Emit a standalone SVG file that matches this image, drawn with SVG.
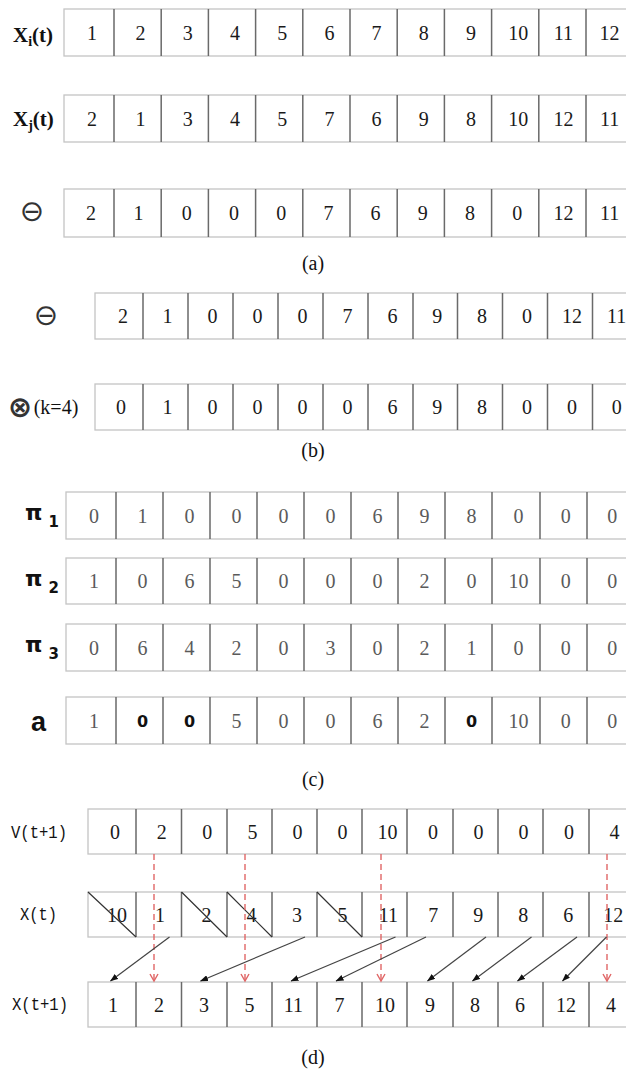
<svg xmlns="http://www.w3.org/2000/svg" width="626" height="1069" viewBox="0 0 626 1069">
<style>
.box{fill:#fff;stroke:#c4c4c4;stroke-width:1.3}
.dv{stroke:#6a6a6a;stroke-width:1.5;fill:none}
.n{font-family:"Liberation Serif",serif;font-size:20px;fill:#1a1a1a;text-anchor:middle}
.g{fill:#5a5a5a}
.b0{font-family:"DejaVu Sans",sans-serif;font-weight:bold;font-size:16px;fill:#111}
.lbl{font-family:"Liberation Serif",serif;font-weight:bold;font-size:21px;fill:#111}
.sym{font-family:"DejaVu Sans",sans-serif;font-size:29px;fill:#333;text-anchor:middle}
.pi{font-family:"DejaVu Sans",sans-serif;font-weight:bold;font-size:22px;fill:#111}
.mono{font-family:"Liberation Mono",monospace;font-size:18px;fill:#111}
.cap{font-family:"Liberation Serif",serif;font-size:20px;fill:#111;text-anchor:middle}
.strike{stroke:#333;stroke-width:1.2}
.red{stroke:#e06666;stroke-width:1.4;stroke-dasharray:6 4;fill:none}
.blk{stroke:#444;stroke-width:1.2;fill:none}
</style>
<defs>
<marker id="ah" markerWidth="8" markerHeight="6" refX="7.5" refY="3" orient="auto" markerUnits="userSpaceOnUse">
<path d="M0,0 L8,3 L0,6 z" fill="#111"/>
</marker>
<marker id="rh" markerWidth="10" markerHeight="10" refX="8" refY="5" orient="auto" markerUnits="userSpaceOnUse">
<path d="M1,1 L8,5 L1,9" fill="none" stroke="#e06666" stroke-width="1.4"/>
</marker>
</defs>

<!-- (a) -->
<g id="a-row1">
<text class="lbl" x="13" y="42">X<tspan font-size="14" dy="4">i</tspan><tspan dy="-4">(t)</tspan></text>
<rect class="box" x="64" y="9" width="572" height="47"/>
<path class="dv" d="M114 9V56M161.2 9V56M208.4 9V56M255.6 9V56M302.8 9V56M350 9V56M397.2 9V56M444.4 9V56M491.6 9V56M538.8 9V56M586 9V56"/>
<g class="n">
<text x="92" y="39.5">1</text><text x="140.6" y="39.5">2</text><text x="187.8" y="39.5">3</text><text x="235" y="39.5">4</text><text x="282.2" y="39.5">5</text><text x="329.4" y="39.5">6</text><text x="376.6" y="39.5">7</text><text x="423.8" y="39.5">8</text><text x="471" y="39.5">9</text><text x="518.2" y="39.5">10</text><text x="563.4" y="39.5">11</text><text x="609.6" y="39.5">12</text>
</g>
</g>
<g id="a-row2">
<text class="lbl" x="13" y="126">X<tspan font-size="14" dy="4">j</tspan><tspan dy="-4">(t)</tspan></text>
<rect class="box" x="64" y="95" width="572" height="47"/>
<path class="dv" d="M114 95V142M161.2 95V142M208.4 95V142M255.6 95V142M302.8 95V142M350 95V142M397.2 95V142M444.4 95V142M491.6 95V142M538.8 95V142M586 95V142"/>
<g class="n">
<text x="92" y="125.5">2</text><text x="140.6" y="125.5">1</text><text x="187.8" y="125.5">3</text><text x="235" y="125.5">4</text><text x="282.2" y="125.5">5</text><text x="329.4" y="125.5">7</text><text x="376.6" y="125.5">6</text><text x="423.8" y="125.5">9</text><text x="471" y="125.5">8</text><text x="518.2" y="125.5">10</text><text x="563.4" y="125.5">12</text><text x="609.6" y="125.5">11</text>
</g>
</g>
<g id="a-row3">
<text class="sym" x="32" y="221">⊖</text>
<rect class="box" x="64" y="189" width="572" height="48"/>
<path class="dv" d="M114 189V237M161.2 189V237M208.4 189V237M255.6 189V237M302.8 189V237M350 189V237M397.2 189V237M444.4 189V237M491.6 189V237M538.8 189V237M586 189V237"/>
<g class="n">
<text x="91" y="220">2</text><text x="138.6" y="220">1</text><text x="186.8" y="220">0</text><text x="234" y="220">0</text><text x="281.2" y="220">0</text><text x="328.4" y="220">7</text><text x="375.6" y="220">6</text><text x="422.8" y="220">9</text><text x="470" y="220">8</text><text x="517.2" y="220">0</text><text x="563.4" y="220">12</text><text x="609.6" y="220">11</text>
</g>
</g>
<text id="cap-a" class="cap" x="313" y="270">(a)</text>

<!-- (b) -->
<g id="b-row1">
<text class="sym" x="46" y="325">⊖</text>
<rect class="box" x="95" y="293" width="545" height="46"/>
<path class="dv" d="M143 293V339M188 293V339M233 293V339M278 293V339M323 293V339M368 293V339M413 293V339M457.5 293V339M502.5 293V339M547.5 293V339M592.5 293V339"/>
<g class="n">
<text x="123" y="323">2</text><text x="167.5" y="323">1</text><text x="212.5" y="323">0</text><text x="257.5" y="323">0</text><text x="302.5" y="323">0</text><text x="347.5" y="323">7</text><text x="392.5" y="323">6</text><text x="437.2" y="323">9</text><text x="482" y="323">8</text><text x="527" y="323">0</text><text x="572" y="323">12</text><text x="616.7" y="323">11</text>
</g>
</g>
<g id="b-row2">
<text class="sym" x="20" y="417" font-weight="bold">⊗</text>
<text class="cap" x="56" y="414" fill="#333">(k=4)</text>
<rect class="box" x="95" y="384" width="545" height="46"/>
<path class="dv" d="M143 384V430M188 384V430M233 384V430M278 384V430M323 384V430M368 384V430M413 384V430M457.5 384V430M502.5 384V430M547.5 384V430M592.5 384V430"/>
<g class="n">
<text x="121" y="414">0</text><text x="167.5" y="414">1</text><text x="212.5" y="414">0</text><text x="257.5" y="414">0</text><text x="302.5" y="414">0</text><text x="347.5" y="414">0</text><text x="392.5" y="414">6</text><text x="437.2" y="414">9</text><text x="482" y="414">8</text><text x="527" y="414">0</text><text x="572" y="414">0</text><text x="616.7" y="414">0</text>
</g>
</g>
<text id="cap-b" class="cap" x="313" y="457">(b)</text>

<!-- (c) -->
<g id="c-pi1">
<text class="pi" x="25" y="520">π<tspan font-size="15" dx="6" dy="7">1</tspan></text>
<rect class="box" x="66" y="492" width="570" height="47"/>
<path class="dv" d="M116 492V539M163 492V539M210 492V539M257 492V539M304 492V539M351 492V539M398 492V539M445 492V539M492 492V539M540 492V539M587 492V539"/>
<g class="n g">
<text x="94" y="522.5">0</text><text x="142.5" y="522.5">1</text><text x="189.5" y="522.5">0</text><text x="236.5" y="522.5">0</text><text x="283.5" y="522.5">0</text><text x="330.5" y="522.5">0</text><text x="377.5" y="522.5">6</text><text x="424.5" y="522.5">9</text><text x="471.5" y="522.5">8</text><text x="518.5" y="522.5">0</text><text x="565.7" y="522.5">0</text><text x="612.3" y="522.5">0</text>
</g>
</g>
<g id="c-pi2">
<text class="pi" x="25" y="585.5">π<tspan font-size="15" dx="6" dy="7">2</tspan></text>
<rect class="box" x="66" y="558" width="570" height="46"/>
<path class="dv" d="M116 558V604M163 558V604M210 558V604M257 558V604M304 558V604M351 558V604M398 558V604M445 558V604M492 558V604M540 558V604M587 558V604"/>
<g class="n g">
<text x="94" y="588">1</text><text x="142.5" y="588">0</text><text x="189.5" y="588">6</text><text x="236.5" y="588">5</text><text x="283.5" y="588">0</text><text x="330.5" y="588">0</text><text x="377.5" y="588">0</text><text x="424.5" y="588">2</text><text x="471.5" y="588">0</text><text x="518.5" y="588">10</text><text x="565.7" y="588">0</text><text x="612.3" y="588">0</text>
</g>
</g>
<g id="c-pi3">
<text class="pi" x="25" y="652">π<tspan font-size="15" dx="6" dy="7">3</tspan></text>
<rect class="box" x="66" y="624" width="570" height="47"/>
<path class="dv" d="M116 624V671M163 624V671M210 624V671M257 624V671M304 624V671M351 624V671M398 624V671M445 624V671M492 624V671M540 624V671M587 624V671"/>
<g class="n g">
<text x="94" y="654.5">0</text><text x="142.5" y="654.5">6</text><text x="189.5" y="654.5">4</text><text x="236.5" y="654.5">2</text><text x="283.5" y="654.5">0</text><text x="330.5" y="654.5">3</text><text x="377.5" y="654.5">0</text><text x="424.5" y="654.5">2</text><text x="471.5" y="654.5">1</text><text x="518.5" y="654.5">0</text><text x="565.7" y="654.5">0</text><text x="612.3" y="654.5">0</text>
</g>
</g>
<g id="c-a">
<text x="31" y="731" font-family="Liberation Sans, sans-serif" font-weight="bold" font-size="27" fill="#111">a</text>
<rect class="box" x="66" y="697" width="570" height="47"/>
<path class="dv" d="M116 697V744M163 697V744M210 697V744M257 697V744M304 697V744M351 697V744M398 697V744M445 697V744M492 697V744M540 697V744M587 697V744"/>
<g class="n g">
<text x="94" y="727.5">1</text><text x="236.5" y="727.5">5</text><text x="283.5" y="727.5">0</text><text x="330.5" y="727.5">0</text><text x="377.5" y="727.5">6</text><text x="424.5" y="727.5">2</text><text x="518.5" y="727.5">10</text><text x="565.7" y="727.5">0</text><text x="612.3" y="727.5">0</text>
</g>
<g class="b0" text-anchor="middle">
<text x="142.5" y="727">0</text><text x="189.5" y="727">0</text><text x="471.5" y="727">0</text>
</g>
</g>
<text id="cap-c" class="cap" x="313" y="786">(c)</text>

<!-- (d) -->
<g id="d-v">
<text class="mono" x="11" y="838" textLength="56" lengthAdjust="spacingAndGlyphs">V(t+1)</text>
<rect class="box" x="88" y="809" width="548" height="45"/>
<path class="dv" d="M136 809V854M181.5 809V854M227 809V854M272 809V854M317 809V854M362 809V854M407 809V854M453 809V854M498 809V854M543 809V854M589 809V854"/>
<g class="n">
<text x="115" y="838.5">0</text><text x="161.75" y="838.5">2</text><text x="207.25" y="838.5">0</text><text x="252.5" y="838.5">5</text><text x="297.5" y="838.5">0</text><text x="342.5" y="838.5">0</text><text x="387.5" y="838.5">10</text><text x="433" y="838.5">0</text><text x="478.5" y="838.5">0</text><text x="523.5" y="838.5">0</text><text x="569" y="838.5">0</text><text x="614.5" y="838.5">4</text>
</g>
</g>
<g id="d-xt">
<text class="mono" x="20" y="920" textLength="37" lengthAdjust="spacingAndGlyphs">X(t)</text>
<rect class="box" x="88" y="892" width="548" height="45"/>
<path class="dv" d="M136 892V937M181.5 892V937M227 892V937M272 892V937M317 892V937M362 892V937M407 892V937M453 892V937M498 892V937M543 892V937M589 892V937"/>
<g class="n">
<text x="117" y="921.5">10</text><text x="160" y="921.5">1</text><text x="206.5" y="921.5">2</text><text x="251.5" y="921.5">4</text><text x="297" y="921.5">3</text><text x="342.5" y="921.5">5</text><text x="388.3" y="921.5">11</text><text x="433.3" y="921.5">7</text><text x="478.3" y="921.5">9</text><text x="523.3" y="921.5">8</text><text x="568.3" y="921.5">6</text><text x="613.3" y="921.5">12</text>
</g>
<path class="strike" d="M88 892L136 937M181.5 892L227 937M227 892L272 937M317 892L362 937"/>
</g>
<g id="d-xt1">
<text class="mono" x="12" y="1010" textLength="56" lengthAdjust="spacingAndGlyphs">X(t+1)</text>
<rect class="box" x="88" y="982" width="548" height="45"/>
<path class="dv" d="M136 982V1027M181.5 982V1027M227 982V1027M272 982V1027M317 982V1027M362 982V1027M407 982V1027M453 982V1027M498 982V1027M543 982V1027M589 982V1027"/>
<g class="n">
<text x="113" y="1011.5">1</text><text x="159" y="1011.5">2</text><text x="204" y="1011.5">3</text><text x="249.5" y="1011.5">5</text><text x="293.5" y="1011.5">11</text><text x="339.5" y="1011.5">7</text><text x="385" y="1011.5">10</text><text x="430" y="1011.5">9</text><text x="475" y="1011.5">8</text><text x="520" y="1011.5">6</text><text x="566" y="1011.5">12</text><text x="611" y="1011.5">4</text>
</g>
</g>
<g id="connectors">
<path class="red" d="M154 854V981" marker-end="url(#rh)"/>
<path class="red" d="M245 854V981" marker-end="url(#rh)"/>
<path class="red" d="M381 854V981" marker-end="url(#rh)"/>
<path class="red" d="M607 854V981" marker-end="url(#rh)"/>
<path class="blk" d="M169.5 937L110.5 981" marker-end="url(#ah)"/>
<path class="blk" d="M305 937L200.5 981" marker-end="url(#ah)"/>
<path class="blk" d="M395.5 937L291 981" marker-end="url(#ah)"/>
<path class="blk" d="M426 937L336 981" marker-end="url(#ah)"/>
<path class="blk" d="M486 937L427.5 981" marker-end="url(#ah)"/>
<path class="blk" d="M531.5 937L472.5 981" marker-end="url(#ah)"/>
<path class="blk" d="M577 937L517.5 981" marker-end="url(#ah)"/>
<path class="blk" d="M606.5 937L562.5 981" marker-end="url(#ah)"/>
</g>
<text id="cap-d" class="cap" x="313" y="1064">(d)</text>
</svg>
